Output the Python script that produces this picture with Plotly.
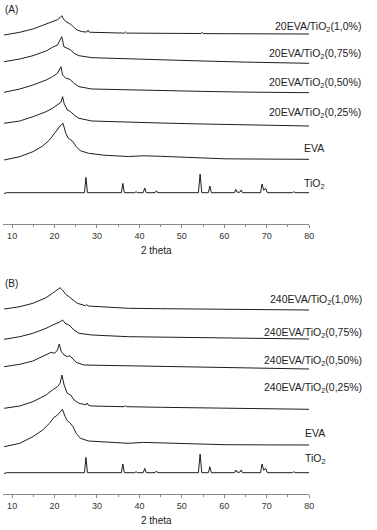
import plotly.graph_objects as go

# ---------------- data (2 theta, intensity above each curve's own baseline, arbitrary units) -------------
X_A10 = [8.1, 11.8, 14.9, 18.0, 19.5, 20.7, 21.3, 21.7, 22.1, 22.65, 23.4, 24.0, 24.6, 25.35, 26.5, 27.6, 27.9, 28.2, 28.8, 32, 36.4, 36.7, 37.0, 45, 54.5, 54.8, 55.1, 60, 70, 80]
Y_A10 = [-1, 1.7, 5, 9.7, 12.3, 14.3, 16.3, 18.3, 15, 12.3, 10.7, 9, 6.3, 4, 2.3, 2, 3.8, 1.8, 1.7, 1.3, 0.9, 2, 0.9, 0.7, 0.5, 1.5, 0.4, 0.3, 0.2, 0]

X_A075 = [8.1, 11.8, 14.9, 18.0, 19.5, 20.7, 21.3, 21.7, 22.2, 22.95, 23.8, 24.6, 25.75, 28.8, 37.4, 45, 55, 65, 80]
Y_A075 = [1.6, 4.3, 7.6, 12.3, 16, 18.3, 23.3, 26.6, 16.6, 15, 13.3, 10, 7.6, 5.6, 4.3, 3.3, 2.3, 1.2, 0]

X_A050 = [8.1, 11.8, 14.9, 18.0, 19.5, 20.7, 21.1, 21.5, 21.9, 22.65, 23.4, 23.8, 24.6, 25.75, 28.8, 37.4, 45, 55, 65, 80]
Y_A050 = [0.4, 3.7, 7.7, 12.7, 16, 19.4, 22.7, 26, 17.7, 14.4, 13.7, 12.7, 9.4, 6, 3.7, 2.7, 2, 1.3, 0.6, 0]

X_A025 = [8.1, 11.8, 14.9, 18.0, 19.5, 20.7, 21.5, 21.9, 22.25, 23.0, 23.8, 24.6, 25.75, 28.8, 37.4, 45, 55, 65, 80]
Y_A025 = [2.7, 5, 9.3, 14.3, 17.7, 21, 23.7, 29.3, 22.7, 16, 14.3, 11, 7.7, 5, 3.7, 3, 2, 1, 0]

X_AEVA = [8.1, 11.8, 14.9, 17.2, 18.8, 19.9, 20.7, 21.3, 22.0, 22.65, 23.25, 23.8, 24.35, 25.1, 26.1, 28.0, 32, 37.4, 41, 45, 50, 60, 70, 80]
Y_AEVA = [-0.7, 2.6, 7.6, 13.3, 19.3, 26, 30, 33.3, 36, 26, 21, 19.3, 17.6, 12.6, 8.6, 6, 4, 2.8, 3.5, 3, 2, 0.5, 0.2, 0]

X_ATIO2 = [8.1, 8.6, 27.05, 27.4, 27.75, 35.75, 36.1, 36.45, 38.9, 39.2, 39.5, 40.9, 41.25, 41.6, 43.7, 44.0, 44.3,
           53.9, 54.3, 54.7, 56.25, 56.6, 56.95, 62.4, 62.7, 63.0, 63.7, 64.0, 64.3, 68.55, 68.9, 69.3, 69.75, 70.15,
           76.1, 76.4, 76.7, 80]
Y_ATIO2 = [-1, 0, 0, 15.3, 0, 0, 9.3, 0, 0, 1, 0, 0, 4.7, 0, 0, 2, 0,
           0, 18.7, 0, 0, 6.7, 0, 0, 3.3, 0.5, 0.5, 2.7, 0, 0, 8.7, 2.5, 4.3, 0,
           0, 1, 0, 0]

X_B10 = [8.1, 11.8, 14.9, 18.0, 19.5, 20.7, 21.3, 21.85, 22.65, 23.4, 24.35, 25.35, 27.3, 27.6, 27.9, 30.4, 37.4, 45, 55, 65, 80]
Y_B10 = [1, 3.3, 6.7, 12.3, 16.7, 20, 22.3, 20, 15.7, 13.3, 10, 6.7, 4.3, 5.5, 4, 3.3, 1.7, 1.3, 0.8, 0.4, 0]

X_B075 = [8.1, 11.8, 14.9, 18.0, 19.9, 21.1, 21.9, 22.5, 23.4, 24.6, 25.75, 28.8, 37.4, 45, 55, 65, 80]
Y_B075 = [-0.3, 2.3, 5.7, 10.7, 14.7, 16.7, 19, 15.7, 14, 9, 5.7, 4, 2.3, 1.8, 1.2, 0.6, 0]

X_B050 = [8.1, 11.8, 14.9, 18.0, 19.2, 20.0, 20.7, 21.1, 21.6, 22.25, 23.0, 23.6, 24.2, 25.1, 26.9, 37.4, 45, 55, 65, 80]
Y_B050 = [2.3, 4.7, 8, 14, 16.7, 15.7, 19, 25, 17.3, 14, 12.3, 13.3, 10.7, 6.7, 4, 3.3, 2.5, 1.5, 0.8, 0]

X_B025 = [8.1, 11.8, 14.9, 18.0, 19.5, 20.7, 21.3, 21.75, 22.25, 23.0, 23.8, 24.6, 25.75, 27.4, 27.7, 28.0, 28.8, 36.4, 36.7, 37.0, 45, 55, 65, 80]
Y_B025 = [1, 3.3, 7.6, 14.3, 19.3, 22.6, 26, 34.3, 24.3, 16, 14.3, 9.3, 6, 4.5, 6.3, 4, 3.3, 2.6, 3.6, 2.6, 2, 1.3, 0.6, 0]

X_BEVA = [8.1, 11.8, 14.9, 17.2, 18.8, 19.9, 20.7, 21.3, 21.85, 22.5, 23.0, 23.6, 24.35, 25.1, 26.1, 28.0, 32, 37.4, 41, 45, 50, 60, 70, 80]
Y_BEVA = [-1.7, 1.7, 8.3, 15, 21.7, 27.7, 30, 33.3, 35.7, 28.3, 24.3, 22.3, 18.3, 11.7, 6.7, 4, 3, 1.7, 2.6, 2.2, 1.5, 0.3, 0.1, 0]

X_BTIO2 = [8.1, 8.6, 27.05, 27.4, 27.75, 35.75, 36.1, 36.45, 38.9, 39.2, 39.5, 40.9, 41.25, 41.6, 43.7, 44.0, 44.3,
           53.9, 54.3, 54.7, 56.25, 56.6, 56.95, 62.4, 62.7, 63.0, 63.7, 64.0, 64.3, 68.55, 68.9, 69.3, 69.75, 70.15,
           76.1, 76.4, 76.7, 80]
Y_BTIO2 = [-1, 0, 0, 15.3, 0, 0, 8.7, 0, 0, 1, 0, 0, 4.3, 0, 0, 1.7, 0,
           0, 18.7, 0, 0, 6, 0, 0, 2.7, 0.5, 0.5, 2.7, 0, 0, 8.7, 2.5, 4.3, 0,
           0, 1, 0, 0]

LABELS_A = ["20EVA/TiO<sub>2</sub>(1,0%)", "20EVA/TiO<sub>2</sub>(0,75%)", "20EVA/TiO<sub>2</sub>(0,50%)",
            "20EVA/TiO<sub>2</sub>(0,25%)", "EVA", "TiO<sub>2</sub>"]
LABELS_B = ["240EVA/TiO<sub>2</sub>(1,0%)", "240EVA/TiO<sub>2</sub>(0,75%)", "240EVA/TiO<sub>2</sub>(0,50%)",
            "240EVA/TiO<sub>2</sub>(0,25%)", "EVA", "TiO<sub>2</sub>"]
TICKS = [10, 20, 30, 40, 50, 60, 70, 80]

# ---------------- layout / styling ----------------
W, H = 377, 530
FONT = "Liberation Sans, Arial, sans-serif"

SERIES_A = [(X_A10, Y_A10), (X_A075, Y_A075), (X_A050, Y_A050), (X_A025, Y_A025), (X_AEVA, Y_AEVA), (X_ATIO2, Y_ATIO2)]
SERIES_B = [(X_B10, Y_B10), (X_B075, Y_B075), (X_B050, Y_B050), (X_B025, Y_B025), (X_BEVA, Y_BEVA), (X_BTIO2, Y_BTIO2)]
# vertical stacking offsets (pixels above the axis line)
OFFS_A = [190, 160.7, 131.3, 98, 64.7, 31.3]
OFFS_B = [184.3, 155.3, 125.3, 85, 49.3, 21.6]
# label centre heights (pixels from top)
LAB_Y_A = [27, 54, 83, 113, 148, 184]
LAB_Y_B = [300, 333, 361, 388, 433, 459]

AX_A, AX_B = 224.0, 494.3  # axis line pixel rows
TOP_A, TOP_B = 0.0, 270.0

fig = go.Figure()

for (xs, ys), off in zip(SERIES_A, OFFS_A):
    fig.add_trace(go.Scatter(x=xs, y=[v + off for v in ys], mode="lines", xaxis="x", yaxis="y",
                             line=dict(color="#1e1e1e", width=1), showlegend=False, hoverinfo="skip"))
for (xs, ys), off in zip(SERIES_B, OFFS_B):
    fig.add_trace(go.Scatter(x=xs, y=[v + off for v in ys], mode="lines", xaxis="x2", yaxis="y2",
                             line=dict(color="#1e1e1e", width=1), showlegend=False, hoverinfo="skip"))

x0px, x1px = 2.7, 313.3
xdom = [x0px / W, x1px / W]
xcommon = dict(range=[7.77, 80], showgrid=False, zeroline=False, showline=True, linecolor="#8a8a8a", linewidth=1,
               tickmode="array", tickvals=TICKS, ticks="outside", ticklen=3, tickcolor="#8a8a8a",
               tickfont=dict(family=FONT, size=9, color="#333"),
               minor=dict(tickmode="array", tickvals=[15, 25, 35, 45, 55, 65, 75], ticks="outside", ticklen=2,
                          tickcolor="#8a8a8a"),
               fixedrange=True)
fig.update_layout(
    width=W, height=H, margin=dict(l=0, r=0, t=0, b=0),
    paper_bgcolor="white", plot_bgcolor="white",
    xaxis=dict(domain=xdom, anchor="y", **xcommon),
    xaxis2=dict(domain=xdom, anchor="y2", **xcommon),
    yaxis=dict(domain=[(H - AX_A) / H, (H - TOP_A) / H], range=[0, AX_A - TOP_A], visible=False, fixedrange=True),
    yaxis2=dict(domain=[(H - AX_B) / H, (H - TOP_B) / H], range=[0, AX_B - TOP_B], visible=False, fixedrange=True),
)

ann = []
def lab(text, xpx, ypx, anchor, size=10.5):
    ann.append(dict(text=text, x=xpx / W, y=(H - ypx) / H, xref="paper", yref="paper", xanchor=anchor,
                    yanchor="middle", showarrow=False, font=dict(family=FONT, size=size, color="#222")))

for i, t in enumerate(LABELS_A):
    if i < 4:
        lab(t, 368, LAB_Y_A[i], "right")
    else:
        lab(t, 306, LAB_Y_A[i], "left")
for i, t in enumerate(LABELS_B):
    if i < 4:
        lab(t, 369, LAB_Y_B[i], "right")
    else:
        lab(t, 307, LAB_Y_B[i], "left")

lab("(A)", 3, 10, "left", 10)
lab("(B)", 3, 283, "left", 10)
lab("2 theta", 158.3, 250.5, "center", 10)
lab("2 theta", 158.3, 520.5, "center", 10)

fig.update_layout(annotations=ann)
fig.write_html("out.html", config={"displayModeBar": False},
               post_script="document.body.style.margin='0';document.body.style.padding='0';")
